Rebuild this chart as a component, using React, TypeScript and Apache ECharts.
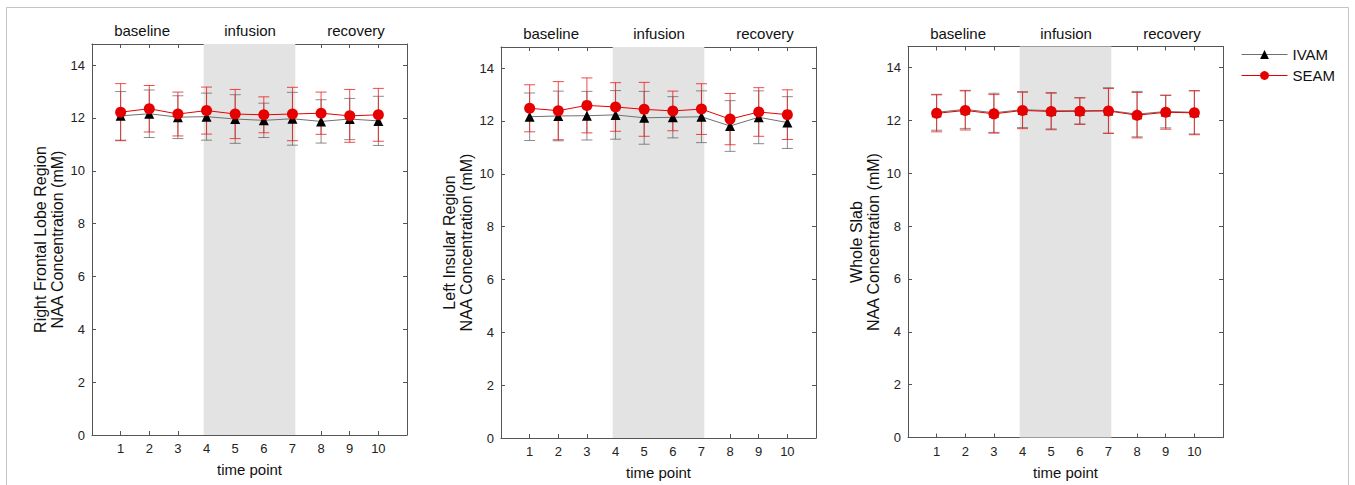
import React, { useEffect, useRef } from "react";
import * as echarts from "echarts";

const timePoints = [1, 2, 3, 4, 5, 6, 7, 8, 9, 10];
const phaseLabels = ["baseline", "infusion", "recovery"];
const phasePos = [1.75, 5.52, 9.22];
const infusionRange = [3.9, 7.1];
const yTicksMax = 14.8;

const panelTitles = [
  "Right Frontal Lobe Region\nNAA Concentration (mM)",
  "Left Insular Region\nNAA Concentration (mM)",
  "Whole Slab\nNAA Concentration (mM)",
];

const p1Seam = [12.22, 12.35, 12.15, 12.28, 12.15, 12.12, 12.15, 12.18, 12.08, 12.12];
const p1SeamErr = [1.08, 0.88, 0.83, 0.89, 0.93, 0.68, 1.01, 0.8, 1.0, 1.0];
const p1Ivam = [12.08, 12.16, 12.03, 12.05, 11.96, 11.91, 11.97, 11.87, 11.96, 11.89];
const p1IvamErr = [0.92, 0.9, 0.81, 0.89, 0.92, 0.65, 1.0, 0.82, 0.78, 0.93];

const p2Seam = [12.48, 12.39, 12.59, 12.53, 12.44, 12.38, 12.45, 12.07, 12.34, 12.24];
const p2SeamErr = [0.89, 1.1, 1.04, 0.92, 1.02, 0.75, 0.96, 0.97, 0.92, 0.94];
const p2Ivam = [12.16, 12.19, 12.2, 12.23, 12.12, 12.14, 12.16, 11.81, 12.14, 11.94];
const p2IvamErr = [0.9, 0.94, 0.92, 0.92, 1.0, 0.78, 0.98, 0.96, 1.0, 0.98];

const p3Seam = [12.27, 12.38, 12.25, 12.38, 12.34, 12.35, 12.36, 12.2, 12.31, 12.29];
const p3SeamErr = [0.7, 0.74, 0.73, 0.69, 0.69, 0.5, 0.85, 0.86, 0.64, 0.83];
const p3Ivam = [12.31, 12.42, 12.29, 12.41, 12.37, 12.37, 12.38, 12.24, 12.34, 12.31];
const p3IvamErr = [0.68, 0.72, 0.74, 0.68, 0.69, 0.5, 0.86, 0.86, 0.62, 0.82];

const panels = [
  { seam: p1Seam, seamErr: p1SeamErr, ivam: p1Ivam, ivamErr: p1IvamErr },
  { seam: p2Seam, seamErr: p2SeamErr, ivam: p2Ivam, ivamErr: p2IvamErr },
  { seam: p3Seam, seamErr: p3SeamErr, ivam: p3Ivam, ivamErr: p3IvamErr },
];

const grids = [
  { left: 92, top: 44, width: 315, height: 391 },
  { left: 501, top: 47, width: 315, height: 392 },
  { left: 908, top: 46.5, width: 315, height: 391 },
];

const FONT = "Liberation Sans";
const AXIS_COLOR = "#555";
const RED = "#e60000";

function errorRenderer(color: string) {
  return (params: any, api: any) => {
    const x = api.value(0);
    const lo = api.value(1);
    const hi = api.value(2);
    const top = api.coord([x, hi]);
    const bot = api.coord([x, lo]);
    const w = 5.5;
    const style = { stroke: color, lineWidth: 1 };
    return {
      type: "group",
      children: [
        { type: "line", shape: { x1: top[0], y1: top[1], x2: bot[0], y2: bot[1] }, style },
        { type: "line", shape: { x1: top[0] - w, y1: top[1], x2: top[0] + w, y2: top[1] }, style },
        { type: "line", shape: { x1: bot[0] - w, y1: bot[1], x2: bot[0] + w, y2: bot[1] }, style },
      ],
    };
  };
}

export default function App() {
  const ref = useRef<HTMLDivElement>(null);
  useEffect(() => {
    if (!ref.current) return;
    const chart = echarts.init(ref.current, undefined, { renderer: "svg" });

    const xAxes: any[] = [];
    const yAxes: any[] = [];
    const series: any[] = [];
    const graphics: any[] = [];

    const lineCfg = { show: true, onZero: false, lineStyle: { color: AXIS_COLOR, width: 1 } };
    const tickCfg = { show: true, inside: true, length: 4, lineStyle: { color: AXIS_COLOR } };

    grids.forEach((g, i) => {
      xAxes.push({
        type: "value",
        gridIndex: i,
        min: 0,
        max: 11,
        interval: 1,
        position: "bottom",
        name: "time point",
        nameLocation: "middle",
        nameGap: 27,
        nameTextStyle: { fontFamily: FONT, fontSize: 15, color: "#111" },
        axisLine: lineCfg,
        axisTick: tickCfg,
        axisLabel: {
          fontFamily: FONT,
          fontSize: 13,
          color: "#222",
          margin: 7,
          formatter: (v: number) => (v >= 1 && v <= 10 ? String(v) : ""),
        },
        splitLine: { show: false },
      });
      xAxes.push({
        type: "value",
        gridIndex: i,
        min: 0,
        max: 11,
        interval: 1,
        position: "top",
        axisLine: lineCfg,
        axisTick: tickCfg,
        axisLabel: { show: false },
        splitLine: { show: false },
      });
      yAxes.push({
        type: "value",
        gridIndex: i,
        min: 0,
        max: yTicksMax,
        interval: 2,
        position: "left",
        name: panelTitles[i],
        nameLocation: "middle",
        nameGap: 26,
        nameRotate: 90,
        nameTextStyle: { fontFamily: FONT, fontSize: 16, color: "#111", lineHeight: 17, align: "center" },
        axisLine: lineCfg,
        axisTick: tickCfg,
        axisLabel: {
          fontFamily: FONT,
          fontSize: 13,
          color: "#222",
          margin: 7,
          formatter: (v: number) => (Math.abs(v % 2) < 1e-9 ? String(v) : ""),
        },
        splitLine: { show: false },
      });
      yAxes.push({
        type: "value",
        gridIndex: i,
        min: 0,
        max: yTicksMax,
        interval: 2,
        position: "right",
        axisLine: lineCfg,
        axisTick: tickCfg,
        axisLabel: { show: false },
        splitLine: { show: false },
      });

      const p = panels[i];
      const xi = 2 * i;
      const yi = 2 * i;

      series.push({
        type: "custom",
        name: "IVAM error",
        xAxisIndex: xi,
        yAxisIndex: yi,
        z: 1,
        renderItem: errorRenderer("rgba(80,80,80,0.65)"),
        encode: { x: 0, y: [1, 2] },
        data: timePoints.map((t, k) => [t, p.ivam[k] - p.ivamErr[k], p.ivam[k] + p.ivamErr[k]]),
        markArea: {
          silent: true,
          itemStyle: { color: "#e3e3e3" },
          data: [[{ xAxis: infusionRange[0], yAxis: 0 }, { xAxis: infusionRange[1], yAxis: yTicksMax }]],
        },
      });
      series.push({
        type: "custom",
        name: "SEAM error",
        xAxisIndex: xi,
        yAxisIndex: yi,
        z: 2,
        renderItem: errorRenderer("rgba(235,30,30,0.8)"),
        encode: { x: 0, y: [1, 2] },
        data: timePoints.map((t, k) => [t, p.seam[k] - p.seamErr[k], p.seam[k] + p.seamErr[k]]),
      });
      series.push({
        type: "line",
        name: "IVAM",
        xAxisIndex: xi,
        yAxisIndex: yi,
        z: 3,
        symbol: "triangle",
        symbolSize: 10,
        itemStyle: { color: "#000" },
        lineStyle: { color: "#707070", width: 1 },
        data: timePoints.map((t, k) => [t, p.ivam[k]]),
      });
      series.push({
        type: "line",
        name: "SEAM",
        xAxisIndex: xi,
        yAxisIndex: yi,
        z: 4,
        symbol: "circle",
        symbolSize: 11,
        itemStyle: { color: RED },
        lineStyle: { color: RED, width: 1 },
        data: timePoints.map((t, k) => [t, p.seam[k]]),
      });

      const unit = g.width / 11;
      phaseLabels.forEach((lab, j) => {
        graphics.push({
          type: "text",
          x: g.left + phasePos[j] * unit,
          y: g.top - 6,
          style: {
            text: lab,
            fontFamily: FONT,
            fontSize: 15,
            fill: "#111",
            align: "center",
            verticalAlign: "bottom",
          },
        });
      });
    });

    graphics.push({
      type: "rect",
      shape: { x: 6.5, y: 7.5, width: 1342, height: 500 },
      style: { fill: "none", stroke: "#c4c4c4", lineWidth: 1 },
      z: -10,
    });

    chart.setOption({
      animation: false,
      backgroundColor: "#fff",
      grid: grids.map((g) => ({ ...g, containLabel: false })),
      xAxis: xAxes,
      yAxis: yAxes,
      legend: {
        data: ["IVAM", "SEAM"],
        orient: "vertical",
        left: 1236,
        top: 42,
        itemWidth: 46,
        itemHeight: 11,
        itemGap: 6,
        selectedMode: false,
        lineStyle: { width: 1 },
        textStyle: { fontFamily: FONT, fontSize: 15, color: "#111" },
      },
      graphic: graphics,
      series,
    });

    return () => chart.dispose();
  }, []);

  return (
    <div
      ref={ref}
      style={{ position: "absolute", left: 0, top: 0, width: 1355, height: 485, background: "#fff" }}
    />
  );
}
